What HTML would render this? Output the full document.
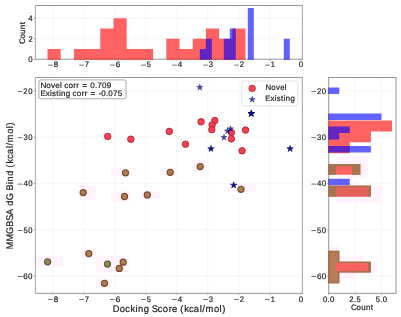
<!DOCTYPE html>
<html><head><meta charset="utf-8"><style>
html,body{margin:0;padding:0;background:#fff;}
body{width:401px;height:317px;overflow:hidden;}
svg{display:block;will-change:transform;}
text{font-family:"Liberation Sans",sans-serif;text-rendering:geometricPrecision;}
</style></head><body>
<svg width="401" height="317" viewBox="0 0 401 317" font-family="Liberation Sans, sans-serif">
<rect width="401" height="317" fill="#fff"/>
<line x1="52.85" y1="5.50" x2="52.85" y2="59.20" stroke="#f4f4f4" stroke-width="0.8"/>
<line x1="52.85" y1="77.50" x2="52.85" y2="293.35" stroke="#f4f4f4" stroke-width="0.8"/>
<line x1="83.85" y1="5.50" x2="83.85" y2="59.20" stroke="#f4f4f4" stroke-width="0.8"/>
<line x1="83.85" y1="77.50" x2="83.85" y2="293.35" stroke="#f4f4f4" stroke-width="0.8"/>
<line x1="114.85" y1="5.50" x2="114.85" y2="59.20" stroke="#f4f4f4" stroke-width="0.8"/>
<line x1="114.85" y1="77.50" x2="114.85" y2="293.35" stroke="#f4f4f4" stroke-width="0.8"/>
<line x1="145.85" y1="5.50" x2="145.85" y2="59.20" stroke="#f4f4f4" stroke-width="0.8"/>
<line x1="145.85" y1="77.50" x2="145.85" y2="293.35" stroke="#f4f4f4" stroke-width="0.8"/>
<line x1="176.85" y1="5.50" x2="176.85" y2="59.20" stroke="#f4f4f4" stroke-width="0.8"/>
<line x1="176.85" y1="77.50" x2="176.85" y2="293.35" stroke="#f4f4f4" stroke-width="0.8"/>
<line x1="207.85" y1="5.50" x2="207.85" y2="59.20" stroke="#f4f4f4" stroke-width="0.8"/>
<line x1="207.85" y1="77.50" x2="207.85" y2="293.35" stroke="#f4f4f4" stroke-width="0.8"/>
<line x1="238.85" y1="5.50" x2="238.85" y2="59.20" stroke="#f4f4f4" stroke-width="0.8"/>
<line x1="238.85" y1="77.50" x2="238.85" y2="293.35" stroke="#f4f4f4" stroke-width="0.8"/>
<line x1="269.85" y1="5.50" x2="269.85" y2="59.20" stroke="#f4f4f4" stroke-width="0.8"/>
<line x1="269.85" y1="77.50" x2="269.85" y2="293.35" stroke="#f4f4f4" stroke-width="0.8"/>
<line x1="300.85" y1="5.50" x2="300.85" y2="59.20" stroke="#f4f4f4" stroke-width="0.8"/>
<line x1="300.85" y1="77.50" x2="300.85" y2="293.35" stroke="#f4f4f4" stroke-width="0.8"/>
<line x1="35.40" y1="38.74" x2="302.40" y2="38.74" stroke="#f4f4f4" stroke-width="0.8"/>
<line x1="35.40" y1="18.28" x2="302.40" y2="18.28" stroke="#f4f4f4" stroke-width="0.8"/>
<line x1="35.40" y1="90.80" x2="302.40" y2="90.80" stroke="#f4f4f4" stroke-width="0.8"/>
<line x1="328.70" y1="90.80" x2="396.00" y2="90.80" stroke="#f4f4f4" stroke-width="0.8"/>
<line x1="35.40" y1="137.10" x2="302.40" y2="137.10" stroke="#f4f4f4" stroke-width="0.8"/>
<line x1="328.70" y1="137.10" x2="396.00" y2="137.10" stroke="#f4f4f4" stroke-width="0.8"/>
<line x1="35.40" y1="183.40" x2="302.40" y2="183.40" stroke="#f4f4f4" stroke-width="0.8"/>
<line x1="328.70" y1="183.40" x2="396.00" y2="183.40" stroke="#f4f4f4" stroke-width="0.8"/>
<line x1="35.40" y1="229.70" x2="302.40" y2="229.70" stroke="#f4f4f4" stroke-width="0.8"/>
<line x1="328.70" y1="229.70" x2="396.00" y2="229.70" stroke="#f4f4f4" stroke-width="0.8"/>
<line x1="35.40" y1="276.00" x2="302.40" y2="276.00" stroke="#f4f4f4" stroke-width="0.8"/>
<line x1="328.70" y1="276.00" x2="396.00" y2="276.00" stroke="#f4f4f4" stroke-width="0.8"/>
<line x1="355.07" y1="77.50" x2="355.07" y2="293.35" stroke="#f4f4f4" stroke-width="0.8"/>
<line x1="381.45" y1="77.50" x2="381.45" y2="293.35" stroke="#f4f4f4" stroke-width="0.8"/>
<rect x="111" y="168.2" width="12" height="7.6" fill="rgb(255,243,253)"/>
<rect x="79.6" y="185.5" width="16.2" height="14" fill="rgb(255,243,253)"/>
<rect x="111" y="191.5" width="18.7" height="10.3" fill="rgb(255,243,253)"/>
<rect x="159.9" y="168.2" width="16.4" height="7.6" fill="rgb(255,243,253)"/>
<rect x="192.2" y="160.2" width="16.5" height="11" fill="rgb(255,243,253)"/>
<rect x="140.7" y="191.5" width="19.2" height="7.7" fill="rgb(255,243,253)"/>
<rect x="227.9" y="184" width="27.9" height="7.9" fill="rgb(255,243,253)"/>
<rect x="35.4" y="256.2" width="27.6" height="10.7" fill="rgb(255,243,253)"/>
<rect x="80.6" y="248" width="15.5" height="10" fill="rgb(255,243,253)"/>
<rect x="96.1" y="256.2" width="32.4" height="16.2" fill="rgb(255,243,253)"/>
<rect x="96.1" y="278.6" width="14.9" height="9.3" fill="rgb(255,243,253)"/>
<rect x="336" y="156" width="32" height="8.5" fill="rgb(255,243,253)"/>
<rect x="360" y="164.5" width="8" height="10.5" fill="rgb(255,243,253)"/>
<rect x="336" y="175" width="28" height="3" fill="rgb(255,243,253)"/>
<rect x="371" y="185.7" width="12" height="10.8" fill="rgb(255,243,253)"/>
<rect x="336" y="196.5" width="44" height="6.5" fill="rgb(255,243,253)"/>
<rect x="339" y="256" width="24" height="6.3" fill="rgb(255,243,253)"/>
<rect x="339" y="272.4" width="17" height="6.5" fill="rgb(255,243,253)"/>
<rect x="371.2" y="262.3" width="6" height="10" fill="rgb(255,243,253)"/>
<rect x="328.7" y="246" width="10.4" height="5.4" fill="rgb(255,243,253)"/>
<line x1="35.40" y1="5.50" x2="302.40" y2="5.50" stroke="#979797" stroke-width="1.0" stroke-linecap="square"/>
<line x1="302.40" y1="5.50" x2="302.40" y2="59.20" stroke="#b0b0b0" stroke-width="1.1" stroke-linecap="square"/>
<line x1="35.40" y1="59.20" x2="302.40" y2="59.20" stroke="#979797" stroke-width="1.0" stroke-linecap="square"/>
<line x1="35.40" y1="5.50" x2="35.40" y2="59.20" stroke="#b0b0b0" stroke-width="1.1" stroke-linecap="square"/>
<line x1="35.40" y1="77.50" x2="302.40" y2="77.50" stroke="#979797" stroke-width="1.0" stroke-linecap="square"/>
<line x1="302.40" y1="77.50" x2="302.40" y2="293.35" stroke="#b0b0b0" stroke-width="1.1" stroke-linecap="square"/>
<line x1="35.40" y1="293.35" x2="302.40" y2="293.35" stroke="#979797" stroke-width="1.0" stroke-linecap="square"/>
<line x1="35.40" y1="77.50" x2="35.40" y2="293.35" stroke="#b0b0b0" stroke-width="1.1" stroke-linecap="square"/>
<line x1="328.70" y1="77.50" x2="396.00" y2="77.50" stroke="#979797" stroke-width="1.0" stroke-linecap="square"/>
<line x1="396.00" y1="77.50" x2="396.00" y2="293.35" stroke="#979797" stroke-width="1.0" stroke-linecap="square"/>
<line x1="328.70" y1="293.35" x2="396.00" y2="293.35" stroke="#979797" stroke-width="1.0" stroke-linecap="square"/>
<line x1="328.70" y1="77.50" x2="328.70" y2="293.35" stroke="#979797" stroke-width="1.0" stroke-linecap="square"/>
<path d="M47.50,48.97h13.20v10.68h-13.20zM73.90,48.97h13.20v10.68h-13.20zM87.10,48.97h13.20v10.68h-13.20zM100.30,28.51h13.20v31.14h-13.20zM113.50,18.28h13.20v41.37h-13.20zM126.70,48.97h13.20v10.68h-13.20zM139.90,48.97h13.20v10.68h-13.20zM166.30,38.74h13.20v20.91h-13.20zM179.50,48.97h13.20v10.68h-13.20zM192.70,38.74h13.20v20.91h-13.20zM205.90,28.51h13.20v31.14h-13.20zM219.10,38.74h13.20v20.91h-13.20zM232.30,28.51h13.20v31.14h-13.20z" fill="rgba(255,0,0,0.615)"/>
<path d="M199.80,48.97h6.00v10.68h-6.00zM205.80,38.74h6.00v20.91h-6.00zM223.80,38.74h6.00v20.91h-6.00zM229.80,28.51h6.00v31.14h-6.00zM247.80,8.05h6.00v51.60h-6.00zM283.80,38.74h6.00v20.91h-6.00z" fill="rgba(0,0,255,0.615)"/>
<path d="M328.25,120.60h63.75v10.85h-63.75zM328.25,131.45h42.65v10.85h-42.65zM328.25,142.30h21.55v10.85h-21.55zM328.25,164.00h32.10v10.85h-32.10zM328.25,185.70h42.65v10.85h-42.65zM328.25,250.80h11.00v10.85h-11.00zM328.25,261.65h42.65v10.85h-42.65zM328.25,272.50h11.00v10.85h-11.00z" fill="rgba(255,0,0,0.615)"/>
<path d="M328.25,87.40h11.00v6.52h-11.00zM328.25,113.48h53.20v6.52h-53.20zM328.25,126.52h21.55v6.52h-21.55zM328.25,133.04h11.00v6.52h-11.00zM328.25,146.08h42.65v6.52h-42.65zM328.25,178.68h21.55v6.52h-21.55z" fill="rgba(0,0,255,0.615)"/>
<path d="M328.70,164.00h7.30v10.85h-7.30zM352.10,164.00h8.25v10.85h-8.25zM328.70,164.00h31.65v2.60h-31.65z" fill="rgb(164,116,80)"/>
<rect x="328.70" y="185.70" width="42.20" height="10.85" fill="rgb(226,98,90)"/>
<path d="M328.70,185.70h7.40v10.85h-7.40zM368.30,185.70h2.60v10.85h-2.60zM328.70,185.70h42.20v1.20h-42.20z" fill="rgb(164,116,80)"/>
<rect x="329.30" y="251.50" width="9.35" height="31.15" fill="rgb(184,124,92)" stroke="rgb(150,118,70)" stroke-width="1.4"/>
<rect x="338.25" y="261.65" width="32.65" height="10.85" fill="rgb(150,118,70)"/>
<rect x="335.8" y="263.05" width="32.50" height="8.05" fill="rgb(255,98,98)"/>
<circle cx="107.7" cy="136.4" r="3.25" fill="rgb(242,66,82)" stroke="rgb(178,34,50)" stroke-width="0.9"/>
<circle cx="130.8" cy="139.2" r="3.25" fill="rgb(242,66,82)" stroke="rgb(178,34,50)" stroke-width="0.9"/>
<circle cx="169.3" cy="131.4" r="3.25" fill="rgb(242,66,82)" stroke="rgb(178,34,50)" stroke-width="0.9"/>
<circle cx="201.1" cy="121.8" r="3.25" fill="rgb(242,66,82)" stroke="rgb(178,34,50)" stroke-width="0.9"/>
<circle cx="214.8" cy="120.6" r="3.25" fill="rgb(242,66,82)" stroke="rgb(178,34,50)" stroke-width="0.9"/>
<circle cx="212.1" cy="125" r="3.25" fill="rgb(242,66,82)" stroke="rgb(178,34,50)" stroke-width="0.9"/>
<circle cx="211.8" cy="129.7" r="3.25" fill="rgb(242,66,82)" stroke="rgb(178,34,50)" stroke-width="0.9"/>
<circle cx="231.4" cy="132.6" r="3.25" fill="rgb(242,66,82)" stroke="rgb(178,34,50)" stroke-width="0.9"/>
<circle cx="231.4" cy="138.9" r="3.25" fill="rgb(242,66,82)" stroke="rgb(178,34,50)" stroke-width="0.9"/>
<circle cx="245.5" cy="130.1" r="3.25" fill="rgb(242,66,82)" stroke="rgb(178,34,50)" stroke-width="0.9"/>
<circle cx="242.1" cy="150.8" r="3.25" fill="rgb(242,66,82)" stroke="rgb(178,34,50)" stroke-width="0.9"/>
<circle cx="185.5" cy="144.2" r="3.25" fill="rgb(242,66,82)" stroke="rgb(178,34,50)" stroke-width="0.9"/>
<circle cx="125.5" cy="172.8" r="3.05" fill="rgb(168,130,84)" stroke="rgb(128,74,46)" stroke-width="1.2"/>
<circle cx="83.2" cy="192.6" r="3.05" fill="rgb(168,130,84)" stroke="rgb(128,74,46)" stroke-width="1.2"/>
<circle cx="124.5" cy="196.5" r="3.05" fill="rgb(168,130,84)" stroke="rgb(128,74,46)" stroke-width="1.2"/>
<circle cx="170.2" cy="172.3" r="3.05" fill="rgb(168,130,84)" stroke="rgb(128,74,46)" stroke-width="1.2"/>
<circle cx="200.2" cy="166.6" r="3.05" fill="rgb(168,130,84)" stroke="rgb(128,74,46)" stroke-width="1.2"/>
<circle cx="147.3" cy="194.9" r="3.05" fill="rgb(168,130,84)" stroke="rgb(128,74,46)" stroke-width="1.2"/>
<circle cx="241" cy="189.3" r="3.05" fill="rgb(168,130,84)" stroke="rgb(128,74,46)" stroke-width="1.2"/>
<circle cx="47.6" cy="261.8" r="3.05" fill="rgb(148,134,84)" stroke="rgb(100,92,48)" stroke-width="1.2"/>
<circle cx="88.8" cy="253.6" r="3.05" fill="rgb(168,130,84)" stroke="rgb(128,74,46)" stroke-width="1.2"/>
<circle cx="107.5" cy="264.1" r="3.05" fill="rgb(148,134,84)" stroke="rgb(100,92,48)" stroke-width="1.2"/>
<circle cx="123.2" cy="262.2" r="3.05" fill="rgb(168,130,84)" stroke="rgb(128,74,46)" stroke-width="1.2"/>
<circle cx="119.3" cy="268.4" r="3.05" fill="rgb(168,130,84)" stroke="rgb(128,74,46)" stroke-width="1.2"/>
<circle cx="104.5" cy="283.3" r="3.05" fill="rgb(168,130,84)" stroke="rgb(128,74,46)" stroke-width="1.2"/>
<path d="M199.80,84.00L199.04,86.35L196.57,86.35L198.56,87.80L197.80,90.15L199.80,88.70L201.80,90.15L201.04,87.80L203.03,86.35L200.56,86.35Z" fill="rgb(8,8,132)" fill-opacity="0.76" stroke="rgb(8,8,110)" stroke-opacity="0.76" stroke-width="0.35"/>
<path d="M211.00,145.30L210.24,147.65L207.77,147.65L209.76,149.10L209.00,151.45L211.00,150.00L213.00,151.45L212.24,149.10L214.23,147.65L211.76,147.65Z" fill="rgb(8,8,132)" fill-opacity="0.76" stroke="rgb(8,8,110)" stroke-opacity="0.76" stroke-width="0.35"/>
<path d="M211.00,145.30L210.24,147.65L207.77,147.65L209.76,149.10L209.00,151.45L211.00,150.00L213.00,151.45L212.24,149.10L214.23,147.65L211.76,147.65Z" fill="rgb(8,8,132)" fill-opacity="0.76" stroke="rgb(8,8,110)" stroke-opacity="0.76" stroke-width="0.35"/>
<path d="M224.00,134.00L223.24,136.35L220.77,136.35L222.76,137.80L222.00,140.15L224.00,138.70L226.00,140.15L225.24,137.80L227.23,136.35L224.76,136.35Z" fill="rgb(8,8,132)" fill-opacity="0.76" stroke="rgb(8,8,110)" stroke-opacity="0.76" stroke-width="0.35"/>
<path d="M227.50,127.60L226.74,129.95L224.27,129.95L226.26,131.40L225.50,133.75L227.50,132.30L229.50,133.75L228.74,131.40L230.73,129.95L228.26,129.95Z" fill="rgb(8,8,132)" fill-opacity="0.76" stroke="rgb(8,8,110)" stroke-opacity="0.76" stroke-width="0.35"/>
<path d="M230.40,125.40L229.64,127.75L227.17,127.75L229.16,129.20L228.40,131.55L230.40,130.10L232.40,131.55L231.64,129.20L233.63,127.75L231.16,127.75Z" fill="rgb(8,8,132)" fill-opacity="0.76" stroke="rgb(8,8,110)" stroke-opacity="0.76" stroke-width="0.35"/>
<path d="M233.70,181.80L232.94,184.15L230.47,184.15L232.46,185.60L231.70,187.95L233.70,186.50L235.70,187.95L234.94,185.60L236.93,184.15L234.46,184.15Z" fill="rgb(8,8,132)" fill-opacity="0.76" stroke="rgb(8,8,110)" stroke-opacity="0.76" stroke-width="0.35"/>
<path d="M233.70,181.80L232.94,184.15L230.47,184.15L232.46,185.60L231.70,187.95L233.70,186.50L235.70,187.95L234.94,185.60L236.93,184.15L234.46,184.15Z" fill="rgb(8,8,132)" fill-opacity="0.76" stroke="rgb(8,8,110)" stroke-opacity="0.76" stroke-width="0.35"/>
<path d="M251.30,110.20L250.54,112.55L248.07,112.55L250.06,114.00L249.30,116.35L251.30,114.90L253.30,116.35L252.54,114.00L254.53,112.55L252.06,112.55Z" fill="rgb(8,8,132)" fill-opacity="0.76" stroke="rgb(8,8,110)" stroke-opacity="0.76" stroke-width="0.35"/>
<path d="M251.30,110.20L250.54,112.55L248.07,112.55L250.06,114.00L249.30,116.35L251.30,114.90L253.30,116.35L252.54,114.00L254.53,112.55L252.06,112.55Z" fill="rgb(8,8,132)" fill-opacity="0.76" stroke="rgb(8,8,110)" stroke-opacity="0.76" stroke-width="0.35"/>
<path d="M251.30,110.20L250.54,112.55L248.07,112.55L250.06,114.00L249.30,116.35L251.30,114.90L253.30,116.35L252.54,114.00L254.53,112.55L252.06,112.55Z" fill="rgb(8,8,132)" fill-opacity="0.76" stroke="rgb(8,8,110)" stroke-opacity="0.76" stroke-width="0.35"/>
<path d="M251.30,110.20L250.54,112.55L248.07,112.55L250.06,114.00L249.30,116.35L251.30,114.90L253.30,116.35L252.54,114.00L254.53,112.55L252.06,112.55Z" fill="rgb(8,8,132)" fill-opacity="0.76" stroke="rgb(8,8,110)" stroke-opacity="0.76" stroke-width="0.35"/>
<path d="M251.30,110.20L250.54,112.55L248.07,112.55L250.06,114.00L249.30,116.35L251.30,114.90L253.30,116.35L252.54,114.00L254.53,112.55L252.06,112.55Z" fill="rgb(8,8,132)" fill-opacity="0.76" stroke="rgb(8,8,110)" stroke-opacity="0.76" stroke-width="0.35"/>
<path d="M290.10,145.40L289.34,147.75L286.87,147.75L288.86,149.20L288.10,151.55L290.10,150.10L292.10,151.55L291.34,149.20L293.33,147.75L290.86,147.75Z" fill="rgb(8,8,132)" fill-opacity="0.76" stroke="rgb(8,8,110)" stroke-opacity="0.76" stroke-width="0.35"/>
<path d="M290.10,145.40L289.34,147.75L286.87,147.75L288.86,149.20L288.10,151.55L290.10,150.10L292.10,151.55L291.34,149.20L293.33,147.75L290.86,147.75Z" fill="rgb(8,8,132)" fill-opacity="0.76" stroke="rgb(8,8,110)" stroke-opacity="0.76" stroke-width="0.35"/>
<line x1="52.85" y1="293.35" x2="52.85" y2="294.75" stroke="#8a8a8a" stroke-width="0.8"/>
<line x1="52.85" y1="59.20" x2="52.85" y2="60.60" stroke="#8a8a8a" stroke-width="0.8"/>
<line x1="83.85" y1="293.35" x2="83.85" y2="294.75" stroke="#8a8a8a" stroke-width="0.8"/>
<line x1="83.85" y1="59.20" x2="83.85" y2="60.60" stroke="#8a8a8a" stroke-width="0.8"/>
<line x1="114.85" y1="293.35" x2="114.85" y2="294.75" stroke="#8a8a8a" stroke-width="0.8"/>
<line x1="114.85" y1="59.20" x2="114.85" y2="60.60" stroke="#8a8a8a" stroke-width="0.8"/>
<line x1="145.85" y1="293.35" x2="145.85" y2="294.75" stroke="#8a8a8a" stroke-width="0.8"/>
<line x1="145.85" y1="59.20" x2="145.85" y2="60.60" stroke="#8a8a8a" stroke-width="0.8"/>
<line x1="176.85" y1="293.35" x2="176.85" y2="294.75" stroke="#8a8a8a" stroke-width="0.8"/>
<line x1="176.85" y1="59.20" x2="176.85" y2="60.60" stroke="#8a8a8a" stroke-width="0.8"/>
<line x1="207.85" y1="293.35" x2="207.85" y2="294.75" stroke="#8a8a8a" stroke-width="0.8"/>
<line x1="207.85" y1="59.20" x2="207.85" y2="60.60" stroke="#8a8a8a" stroke-width="0.8"/>
<line x1="238.85" y1="293.35" x2="238.85" y2="294.75" stroke="#8a8a8a" stroke-width="0.8"/>
<line x1="238.85" y1="59.20" x2="238.85" y2="60.60" stroke="#8a8a8a" stroke-width="0.8"/>
<line x1="269.85" y1="293.35" x2="269.85" y2="294.75" stroke="#8a8a8a" stroke-width="0.8"/>
<line x1="269.85" y1="59.20" x2="269.85" y2="60.60" stroke="#8a8a8a" stroke-width="0.8"/>
<line x1="300.85" y1="293.35" x2="300.85" y2="294.75" stroke="#8a8a8a" stroke-width="0.8"/>
<line x1="300.85" y1="59.20" x2="300.85" y2="60.60" stroke="#8a8a8a" stroke-width="0.8"/>
<line x1="34.00" y1="90.80" x2="35.40" y2="90.80" stroke="#8a8a8a" stroke-width="0.8"/>
<line x1="327.30" y1="90.80" x2="328.70" y2="90.80" stroke="#8a8a8a" stroke-width="0.8"/>
<line x1="34.00" y1="137.10" x2="35.40" y2="137.10" stroke="#8a8a8a" stroke-width="0.8"/>
<line x1="327.30" y1="137.10" x2="328.70" y2="137.10" stroke="#8a8a8a" stroke-width="0.8"/>
<line x1="34.00" y1="183.40" x2="35.40" y2="183.40" stroke="#8a8a8a" stroke-width="0.8"/>
<line x1="327.30" y1="183.40" x2="328.70" y2="183.40" stroke="#8a8a8a" stroke-width="0.8"/>
<line x1="34.00" y1="229.70" x2="35.40" y2="229.70" stroke="#8a8a8a" stroke-width="0.8"/>
<line x1="327.30" y1="229.70" x2="328.70" y2="229.70" stroke="#8a8a8a" stroke-width="0.8"/>
<line x1="34.00" y1="276.00" x2="35.40" y2="276.00" stroke="#8a8a8a" stroke-width="0.8"/>
<line x1="327.30" y1="276.00" x2="328.70" y2="276.00" stroke="#8a8a8a" stroke-width="0.8"/>
<line x1="34.00" y1="59.20" x2="35.40" y2="59.20" stroke="#8a8a8a" stroke-width="0.8"/>
<line x1="34.00" y1="38.74" x2="35.40" y2="38.74" stroke="#8a8a8a" stroke-width="0.8"/>
<line x1="34.00" y1="18.28" x2="35.40" y2="18.28" stroke="#8a8a8a" stroke-width="0.8"/>
<line x1="328.70" y1="293.35" x2="328.70" y2="294.75" stroke="#8a8a8a" stroke-width="0.8"/>
<line x1="355.07" y1="293.35" x2="355.07" y2="294.75" stroke="#8a8a8a" stroke-width="0.8"/>
<line x1="381.45" y1="293.35" x2="381.45" y2="294.75" stroke="#8a8a8a" stroke-width="0.8"/>
<text x="54.08" y="301.90" font-size="7.97" fill="#1c1c1c" stroke="#1c1c1c" stroke-width="0.2" transform="scale(0.9942,1)">8</text>
<rect x="48.15" y="299.26" width="4.66" height="0.62" fill="#1c1c1c"/>
<text x="54.08" y="67.40" font-size="7.97" fill="#1c1c1c" stroke="#1c1c1c" stroke-width="0.2" transform="scale(0.9942,1)">8</text>
<rect x="48.15" y="64.76" width="4.66" height="0.62" fill="#1c1c1c"/>
<text x="88.05" y="301.90" font-size="7.97" fill="#1c1c1c" stroke="#1c1c1c" stroke-width="0.2" transform="scale(0.9633,1)">7</text>
<rect x="79.15" y="299.26" width="4.66" height="0.62" fill="#1c1c1c"/>
<text x="88.05" y="67.40" font-size="7.97" fill="#1c1c1c" stroke="#1c1c1c" stroke-width="0.2" transform="scale(0.9633,1)">7</text>
<rect x="79.15" y="64.76" width="4.66" height="0.62" fill="#1c1c1c"/>
<text x="113.47" y="301.90" font-size="7.97" fill="#1c1c1c" stroke="#1c1c1c" stroke-width="0.2" transform="scale(1.0197,1)">6</text>
<rect x="110.15" y="299.26" width="4.66" height="0.62" fill="#1c1c1c"/>
<text x="113.47" y="67.40" font-size="7.97" fill="#1c1c1c" stroke="#1c1c1c" stroke-width="0.2" transform="scale(1.0197,1)">6</text>
<rect x="110.15" y="64.76" width="4.66" height="0.62" fill="#1c1c1c"/>
<text x="157.83" y="301.90" font-size="7.97" fill="#1c1c1c" stroke="#1c1c1c" stroke-width="0.2" transform="scale(0.9306,1)">5</text>
<rect x="141.15" y="299.26" width="4.66" height="0.62" fill="#1c1c1c"/>
<text x="157.83" y="67.40" font-size="7.97" fill="#1c1c1c" stroke="#1c1c1c" stroke-width="0.2" transform="scale(0.9306,1)">5</text>
<rect x="141.15" y="64.76" width="4.66" height="0.62" fill="#1c1c1c"/>
<text x="180.56" y="301.90" font-size="7.97" fill="#1c1c1c" stroke="#1c1c1c" stroke-width="0.2" transform="scale(0.9846,1)">4</text>
<rect x="172.15" y="299.26" width="4.66" height="0.62" fill="#1c1c1c"/>
<text x="180.56" y="67.40" font-size="7.97" fill="#1c1c1c" stroke="#1c1c1c" stroke-width="0.2" transform="scale(0.9846,1)">4</text>
<rect x="172.15" y="64.76" width="4.66" height="0.62" fill="#1c1c1c"/>
<text x="220.71" y="301.90" font-size="7.97" fill="#1c1c1c" stroke="#1c1c1c" stroke-width="0.2" transform="scale(0.9464,1)">3</text>
<rect x="203.15" y="299.26" width="4.66" height="0.62" fill="#1c1c1c"/>
<text x="220.71" y="67.40" font-size="7.97" fill="#1c1c1c" stroke="#1c1c1c" stroke-width="0.2" transform="scale(0.9464,1)">3</text>
<rect x="203.15" y="64.76" width="4.66" height="0.62" fill="#1c1c1c"/>
<text x="252.67" y="301.90" font-size="7.97" fill="#1c1c1c" stroke="#1c1c1c" stroke-width="0.2" transform="scale(0.9489,1)">2</text>
<rect x="234.15" y="299.26" width="4.66" height="0.62" fill="#1c1c1c"/>
<text x="252.67" y="67.40" font-size="7.97" fill="#1c1c1c" stroke="#1c1c1c" stroke-width="0.2" transform="scale(0.9489,1)">2</text>
<rect x="234.15" y="64.76" width="4.66" height="0.62" fill="#1c1c1c"/>
<text x="287.81" y="301.90" font-size="7.97" fill="#1c1c1c" stroke="#1c1c1c" stroke-width="0.2" transform="scale(0.9411,1)">1</text>
<rect x="265.15" y="299.26" width="4.66" height="0.62" fill="#1c1c1c"/>
<text x="287.81" y="67.40" font-size="7.97" fill="#1c1c1c" stroke="#1c1c1c" stroke-width="0.2" transform="scale(0.9411,1)">1</text>
<rect x="265.15" y="64.76" width="4.66" height="0.62" fill="#1c1c1c"/>
<text x="303.09" y="301.90" font-size="7.97" fill="#1c1c1c" stroke="#1c1c1c" stroke-width="0.2" transform="scale(0.9854,1)">0</text>
<text x="303.09" y="67.40" font-size="7.97" fill="#1c1c1c" stroke="#1c1c1c" stroke-width="0.2" transform="scale(0.9854,1)">0</text>
<text x="24.12 29.12" y="93.80" font-size="7.97" fill="#1c1c1c" stroke="#1c1c1c" stroke-width="0.2" transform="scale(0.9676,1)">20</text>
<rect x="17.76" y="91.16" width="4.66" height="0.62" fill="#1c1c1c"/>
<text x="327.55 332.55" y="93.80" font-size="7.97" fill="#1c1c1c" stroke="#1c1c1c" stroke-width="0.2" transform="scale(0.9676,1)">20</text>
<rect x="311.36" y="91.16" width="4.66" height="0.62" fill="#1c1c1c"/>
<text x="24.28 29.17" y="140.10" font-size="7.97" fill="#1c1c1c" stroke="#1c1c1c" stroke-width="0.2" transform="scale(0.9660,1)">30</text>
<rect x="17.76" y="137.46" width="4.66" height="0.62" fill="#1c1c1c"/>
<text x="328.21 333.11" y="140.10" font-size="7.97" fill="#1c1c1c" stroke="#1c1c1c" stroke-width="0.2" transform="scale(0.9660,1)">30</text>
<rect x="311.36" y="137.46" width="4.66" height="0.62" fill="#1c1c1c"/>
<text x="23.75 28.57" y="186.40" font-size="7.97" fill="#1c1c1c" stroke="#1c1c1c" stroke-width="0.2" transform="scale(0.9850,1)">40</text>
<rect x="17.76" y="183.76" width="4.66" height="0.62" fill="#1c1c1c"/>
<text x="321.82 326.63" y="186.40" font-size="7.97" fill="#1c1c1c" stroke="#1c1c1c" stroke-width="0.2" transform="scale(0.9850,1)">40</text>
<rect x="311.36" y="183.76" width="4.66" height="0.62" fill="#1c1c1c"/>
<text x="24.45 29.43" y="232.70" font-size="7.97" fill="#1c1c1c" stroke="#1c1c1c" stroke-width="0.2" transform="scale(0.9581,1)">50</text>
<rect x="17.76" y="230.06" width="4.66" height="0.62" fill="#1c1c1c"/>
<text x="330.88 335.86" y="232.70" font-size="7.97" fill="#1c1c1c" stroke="#1c1c1c" stroke-width="0.2" transform="scale(0.9581,1)">50</text>
<rect x="311.36" y="230.06" width="4.66" height="0.62" fill="#1c1c1c"/>
<text x="23.31 28.04" y="279.00" font-size="7.97" fill="#1c1c1c" stroke="#1c1c1c" stroke-width="0.2" transform="scale(1.0023,1)">60</text>
<rect x="17.76" y="276.36" width="4.66" height="0.62" fill="#1c1c1c"/>
<text x="316.25 320.98" y="279.00" font-size="7.97" fill="#1c1c1c" stroke="#1c1c1c" stroke-width="0.2" transform="scale(1.0023,1)">60</text>
<rect x="311.36" y="276.36" width="4.66" height="0.62" fill="#1c1c1c"/>
<text x="28.76" y="62.10" font-size="7.97" fill="#1c1c1c" stroke="#1c1c1c" stroke-width="0.2" transform="scale(0.9854,1)">0</text>
<text x="30.11" y="41.64" font-size="7.97" fill="#1c1c1c" stroke="#1c1c1c" stroke-width="0.2" transform="scale(0.9489,1)">2</text>
<text x="28.70" y="21.18" font-size="7.97" fill="#1c1c1c" stroke="#1c1c1c" stroke-width="0.2" transform="scale(0.9846,1)">4</text>
<text x="327.21 331.92 334.42" y="301.90" font-size="7.97" fill="#1c1c1c" stroke="#1c1c1c" stroke-width="0.2" transform="scale(0.9870,1)">0.0</text>
<text x="369.46 374.43 377.05" y="301.90" font-size="7.97" fill="#1c1c1c" stroke="#1c1c1c" stroke-width="0.2" transform="scale(0.9455,1)">2.5</text>
<text x="390.48 395.31 397.90" y="301.90" font-size="7.97" fill="#1c1c1c" stroke="#1c1c1c" stroke-width="0.2" transform="scale(0.9622,1)">5.0</text>
<text x="115.82 122.99 128.52 133.92 139.15 141.77 147.55 155.93 162.05 167.26 173.25 176.75 185.15 189.15 194.18 199.04 205.11 207.68 211.10 219.73 225.45 228.25" y="312.00" font-size="9.63" fill="#1c1c1c" stroke="#1c1c1c" stroke-width="0.2" transform="scale(0.9737,1)">DockingScore(kcal/mol)</text>
<text x="353.80 359.42 364.08 368.88 373.80" y="309.60" font-size="7.97" fill="#1c1c1c" stroke="#1c1c1c" stroke-width="0.2" transform="scale(0.9921,1)">Count</text>
<g transform="translate(13.40,185.93) rotate(-90)"><text x="-67.13 -58.91 -50.84 -43.35 -36.99 -30.75 -20.96 -15.25 -4.72 2.03 4.79 10.75 19.56 23.71 28.89 33.93 40.13 42.79 46.40 55.27 61.12 64.01" y="0.00" font-size="9.63" fill="#1c1c1c" stroke="#1c1c1c" stroke-width="0.2" transform="scale(0.9438,1)">MMGBSAdGBind(kcal/mol)</text></g>
<g transform="translate(24.90,32.75) rotate(-90)"><text x="-11.45 -5.83 -1.17 3.63 8.55" y="0.00" font-size="7.97" fill="#1c1c1c" stroke="#1c1c1c" stroke-width="0.2" transform="scale(0.9921,1)">Count</text></g>
<rect x="38.9" y="79.9" width="87.2" height="18.9" rx="2" ry="2" fill="#fff" fill-opacity="0.85" stroke="#9a9a9a" stroke-width="0.85"/>
<text x="39.93 45.57 50.20 54.41 59.00 63.16 67.28 72.05 75.06 80.82 88.65 93.25 95.62 100.30 104.93" y="87.60" font-size="7.97" fill="#1c1c1c" stroke="#1c1c1c" stroke-width="0.2" transform="scale(1.0175,1)">Novelcorr=0.709</text>
<text x="40.19 45.40 49.74 51.64 55.84 58.57 60.63 65.26 72.18 76.35 81.17 84.22 90.06 97.85 100.65 105.29 107.72 112.42 117.12" y="95.80" font-size="7.97" fill="#1c1c1c" stroke="#1c1c1c" stroke-width="0.2" transform="scale(1.0058,1)">Existingcorr=-0.075</text>
<rect x="241.8" y="81.0" width="55.8" height="24.9" rx="2" ry="2" fill="#fff" fill-opacity="0.9" stroke="#dadada" stroke-width="0.8"/>
<circle cx="252.2" cy="88.4" r="3.3" fill="rgb(240,70,82)" stroke="rgb(188,42,56)" stroke-width="0.7"/>
<path d="M252.20,96.10L251.44,98.45L248.97,98.45L250.96,99.90L250.20,102.25L252.20,100.80L254.20,102.25L253.44,99.90L255.43,98.45L252.96,98.45Z" fill="rgb(8,8,132)" fill-opacity="0.76" stroke="rgb(8,8,110)" stroke-opacity="0.76" stroke-width="0.35"/>
<text x="270.84 276.68 281.47 285.85 290.56" y="90.00" font-size="7.97" fill="#1c1c1c" stroke="#1c1c1c" stroke-width="0.2" transform="scale(0.9804,1)">Novel</text>
<text x="271.68 277.02 281.46 283.45 287.75 290.55 292.71 297.48" y="101.00" font-size="7.97" fill="#1c1c1c" stroke="#1c1c1c" stroke-width="0.2" transform="scale(0.9765,1)">Existing</text>
</svg>
</body></html>
